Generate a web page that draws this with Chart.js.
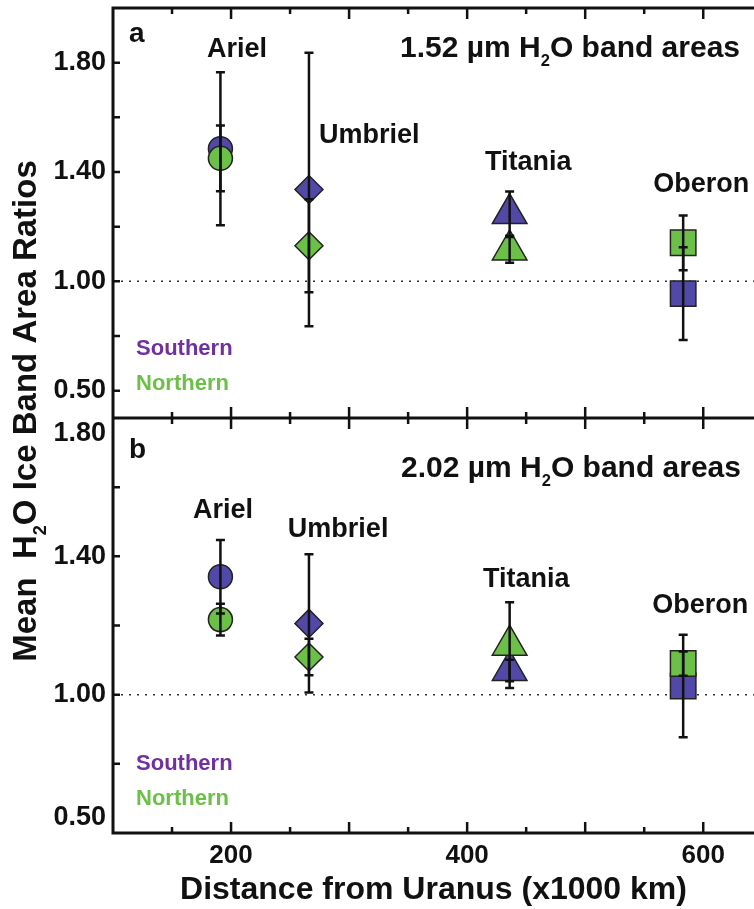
<!DOCTYPE html>
<html>
<head>
<meta charset="utf-8">
<script src="https://cdn.jsdelivr.net/npm/chart.js@4.4.1/dist/chart.umd.min.js"></script>
<style>
  html, body { margin: 0; padding: 0; background: #fff; overflow: hidden; }
  #wrap { width: 754px; height: 909px; overflow: hidden; }
</style>
</head>
<body>
<div id="wrap"><canvas id="chart" width="754" height="909"></canvas></div>
<script>
// moons, distance from Uranus (x1000 km)
const moons = ['Ariel', 'Umbriel', 'Titania', 'Oberon'];
const distance = [191, 266, 436, 583];
const markerShapes = ['circle', 'rectRot', 'triangle', 'rect'];
const markerSizes = [12, 14, 20, 18];

// panel a - 1.52 um band area ratios
const southA = [1.485, 1.336, 1.248, 0.955];
const southErrA = [0.28, 0.50, 0.081, 0.17];
const northA = [1.45, 1.13, 1.115, 1.141];
const northErrA = [0.12, 0.17, 0.047, 0.10];

// panel b - 2.02 um band area ratios
const southB = [1.341, 1.206, 1.070, 1.025];
const southErrB = [0.106, 0.20, 0.031, 0.148];
const northB = [1.217, 1.109, 1.143, 1.090];
const northErrB = [0.046, 0.053, 0.124, 0.035];

// axis ticks
const xTicks = [200, 400, 600];
const yTickLabels = ['0.50', '1.00', '1.40', '1.80'];
const yTicksA = [0.6, 1.0, 1.4, 1.8];
const yTicksB = [0.645, 1.0, 1.4, 1.755];

const FONT = '"Liberation Sans", Arial, sans-serif';
const SOUTH = '#5248a8';
const NORTH = '#6cc048';

// text on the panels (x in km, y in ratio units of the panel)
const notes = [
  { axis: 'yA', x: 113.6, y: 1.876, text: ['a'], size: 28, align: 'left' },
  { axis: 'yA', x: 343.2, y: 1.821, text: ['1.52 µm H', '2', 'O band areas'], size: 30, align: 'left' },
  { axis: 'yA', x: 205.1, y: 1.821, text: ['Ariel'], size: 27, align: 'center' },
  { axis: 'yA', x: 317, y: 1.506, text: ['Umbriel'], size: 27, align: 'center' },
  { axis: 'yA', x: 451.7, y: 1.407, text: ['Titania'], size: 27, align: 'center' },
  { axis: 'yA', x: 598.3, y: 1.327, text: ['Oberon'], size: 27, align: 'center' },
  { axis: 'yA', x: 119.5, y: 0.730, text: ['Southern'], size: 22, align: 'left', color: '#7030a0' },
  { axis: 'yA', x: 119.5, y: 0.602, text: ['Northern'], size: 22, align: 'left', color: '#6cc04a' },
  { axis: 'yB', x: 113.6, y: 1.684, text: ['b'], size: 28, align: 'left' },
  { axis: 'yB', x: 344, y: 1.629, text: ['2.02 µm H', '2', 'O band areas'], size: 30, align: 'left' },
  { axis: 'yB', x: 193.2, y: 1.511, text: ['Ariel'], size: 27, align: 'center' },
  { axis: 'yB', x: 290.7, y: 1.456, text: ['Umbriel'], size: 27, align: 'center' },
  { axis: 'yB', x: 450, y: 1.311, text: ['Titania'], size: 27, align: 'center' },
  { axis: 'yB', x: 597.5, y: 1.236, text: ['Oberon'], size: 27, align: 'center' },
  { axis: 'yB', x: 119.5, y: 0.782, text: ['Southern'], size: 22, align: 'left', color: '#7030a0' },
  { axis: 'yB', x: 119.5, y: 0.681, text: ['Northern'], size: 22, align: 'left', color: '#6cc04a' },
];

// draws text where every second piece is a subscript
function drawParts(ctx, parts, x, y, size, align) {
  const sub = size * 0.55;
  let w = 0;
  parts.forEach((p, i) => {
    ctx.font = 'bold ' + (i % 2 ? sub : size) + 'px ' + FONT;
    w += ctx.measureText(p).width;
  });
  let cx = align === 'center' ? x - w / 2 : x;
  ctx.textAlign = 'left';
  ctx.textBaseline = 'alphabetic';
  parts.forEach((p, i) => {
    ctx.font = 'bold ' + (i % 2 ? sub : size) + 'px ' + FONT;
    ctx.fillText(p, cx, i % 2 ? y + size * 0.3 : y);
    cx += ctx.measureText(p).width;
  });
}

function points(ys) {
  return distance.map((x, i) => ({ x: x, y: ys[i] }));
}

function moonSet(label, ys, errs, color, axis, order) {
  return {
    type: 'scatter',
    label: label,
    data: points(ys),
    errors: errs,
    yAxisID: axis,
    order: order,
    backgroundColor: color,
    borderColor: '#222',
    borderWidth: 1.5,
    pointStyle: markerShapes,
    pointRadius: markerSizes,
    pointHoverRadius: markerSizes,
  };
}

function refLine(axis) {
  return {
    type: 'line',
    data: [{ x: 100, y: 1 }, { x: 700, y: 1 }],
    yAxisID: axis,
    order: 5,
    borderColor: '#333',
    borderWidth: 1.5,
    borderDash: [2, 6],
    pointRadius: 0,
    fill: false,
  };
}

const errorBars = {
  id: 'errorBars',
  afterDatasetsDraw(chart) {
    const ctx = chart.ctx;
    ctx.save();
    ctx.strokeStyle = '#111';
    ctx.lineWidth = 2.5;
    chart.data.datasets.forEach(ds => {
      if (!ds.errors) return;
      const ys = chart.scales[ds.yAxisID];
      ds.data.forEach((p, i) => {
        const px = chart.scales.x.getPixelForValue(p.x);
        const top = ys.getPixelForValue(p.y + ds.errors[i]);
        const bot = ys.getPixelForValue(p.y - ds.errors[i]);
        ctx.beginPath();
        ctx.moveTo(px, top); ctx.lineTo(px, bot);
        ctx.moveTo(px - 4.5, top); ctx.lineTo(px + 4.5, top);
        ctx.moveTo(px - 4.5, bot); ctx.lineTo(px + 4.5, bot);
        ctx.stroke();
      });
    });
    ctx.restore();
  }
};

const frame = {
  id: 'frame',
  afterDraw(chart) {
    const { ctx, chartArea: ca, scales } = chart;
    const mid = scales.yA.bottom;
    ctx.save();
    ctx.strokeStyle = '#111';
    ctx.lineWidth = 3;
    ctx.beginPath();
    ctx.moveTo(ca.left, ca.top - 1.5); ctx.lineTo(ca.left, ca.bottom + 1.5);
    [ca.top, mid, ca.bottom].forEach(y => { ctx.moveTo(ca.left, y); ctx.lineTo(ca.right + 2, y); });
    ctx.stroke();

    ctx.lineWidth = 2.5;
    ctx.beginPath();
    for (let v = 150; v < 700; v += 50) {
      const px = scales.x.getPixelForValue(v);
      const len = v % 100 === 0 ? 11 : 6;
      ctx.moveTo(px, ca.top); ctx.lineTo(px, ca.top + len);
      ctx.moveTo(px, mid - len); ctx.lineTo(px, mid + len);
      ctx.moveTo(px, ca.bottom); ctx.lineTo(px, ca.bottom - len);
    }
    ['yA', 'yB'].forEach(id => {
      const s = scales[id];
      for (let v = 0.6; v < 1.81; v += 0.2) {
        const py = s.getPixelForValue(v);
        if (py <= s.top + 2 || py >= s.bottom - 2) continue;
        ctx.moveTo(ca.left, py); ctx.lineTo(ca.left + 7, py);
      }
    });
    ctx.stroke();

    notes.forEach(n => {
      ctx.fillStyle = n.color || '#111';
      drawParts(ctx, n.text, scales.x.getPixelForValue(n.x), scales[n.axis].getPixelForValue(n.y), n.size, n.align);
    });

    // shared y title
    ctx.fillStyle = '#111';
    ctx.translate(36, 411);
    ctx.rotate(-Math.PI / 2);
    drawParts(ctx, ['Mean  H', '2', 'O Ice Band Area Ratios'], 0, 0, 33, 'center');
    ctx.restore();
  }
};

function yScale(min, max, weight, vals) {
  return {
    type: 'linear',
    position: 'left',
    stack: 'panels',
    stackWeight: weight,
    min: min,
    max: max,
    grid: { display: false, drawTicks: false },
    border: { display: false },
    afterBuildTicks: s => { s.ticks = vals.map(v => ({ value: v })); },
    afterFit: s => { s.width = 113; s.paddingTop = 0; s.paddingBottom = 0; },
    ticks: {
      autoSkip: false,
      padding: 7,
      color: '#111',
      font: { family: FONT, size: 27, weight: 'bold' },
      callback: (v, i) => yTickLabels[i],
    },
  };
}

const ctx = document.getElementById('chart').getContext('2d');
new Chart(ctx, {
  type: 'scatter',
  data: {
    datasets: [
      refLine('yA'),
      refLine('yB'),
      moonSet('Southern', southA, southErrA, SOUTH, 'yA', 2),
      moonSet('Northern', northA, northErrA, NORTH, 'yA', 1),
      moonSet('Southern', southB, southErrB, SOUTH, 'yB', 2),
      moonSet('Northern', northB, northErrB, NORTH, 'yB', 1),
    ]
  },
  options: {
    responsive: false,
    animation: false,
    devicePixelRatio: 1,
    layout: { autoPadding: false, padding: { top: 8, right: 0, bottom: 0, left: 0 } },
    plugins: { legend: { display: false }, tooltip: { enabled: false } },
    scales: {
      x: {
        type: 'linear',
        position: 'bottom',
        min: 100,
        max: 643,
        grid: { display: false, drawTicks: false },
        border: { display: false },
        afterBuildTicks: s => { s.ticks = xTicks.map(v => ({ value: v })); },
        afterFit: s => { s.height = 76; s.paddingLeft = 0; s.paddingRight = 0; },
        ticks: {
          autoSkip: false,
          maxRotation: 0,
          padding: 7,
          color: '#111',
          font: { family: FONT, size: 26, weight: 'bold' },
        },
        title: {
          display: true,
          text: 'Distance from Uranus (x1000 km)',
          color: '#111',
          padding: { top: 0, bottom: 0 },
          font: { family: FONT, size: 32, weight: 'bold' },
        },
      },
      yB: yScale(0.6, 1.8, 415, yTicksB),
      yA: yScale(0.5, 2.0, 410, yTicksA),
    }
  },
  plugins: [errorBars, frame]
});
</script>
</body>
</html>
